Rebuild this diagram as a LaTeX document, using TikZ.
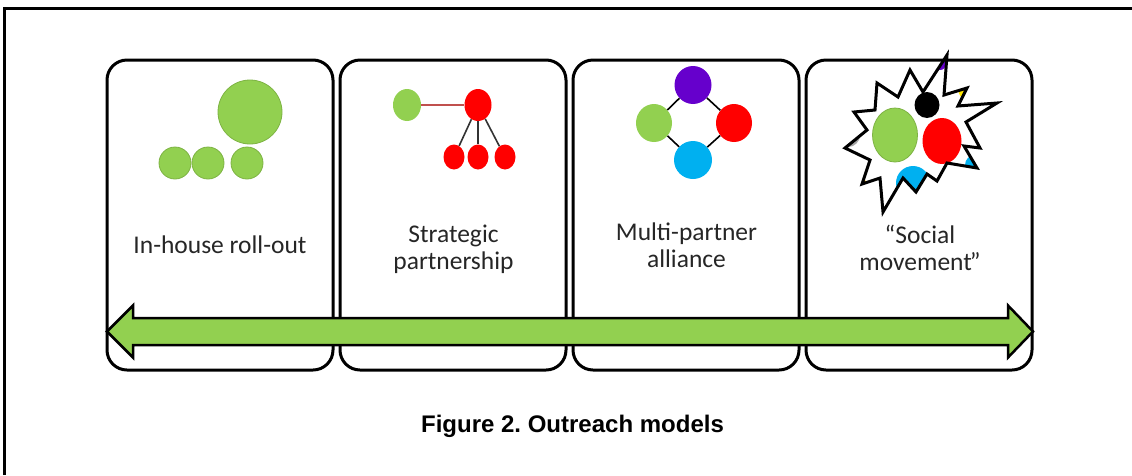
\documentclass[tikz,border=0pt]{standalone}
\usepackage{fontspec}
\setmainfont{Carlito}
\newfontfamily\capfont{Liberation Sans}
\usetikzlibrary{positioning,shapes.geometric}
\definecolor{leaf}{HTML}{92D050}
\definecolor{leafedge}{HTML}{7DB343}
\definecolor{ruby}{HTML}{FF0000}
\definecolor{grape}{HTML}{6600CC}
\definecolor{sky}{HTML}{00B0F0}
\definecolor{sun}{HTML}{FFE600}
\definecolor{amber}{HTML}{FFC000}
\definecolor{ash}{HTML}{A6A6A6}
\definecolor{linkred}{HTML}{C0504D}
\definecolor{ink}{HTML}{262626}
\frenchspacing

\begin{document}
\begin{tikzpicture}[x=1pt,y=-1pt,
    panel/.style={draw, line width=3pt, rounded corners=20pt, minimum width=226pt,
                  minimum height=310pt, inner sep=0pt},
    label/.style={font=\fontsize{25.5}{27}\selectfont, text=ink, align=center},
    blob/.style={ellipse, inner sep=0pt, fill=#1},
    link/.style={line width=1.6pt}]
                \useasboundingbox (0,0) rectangle (1132,475);
                % Frame
                \draw[line width=3pt] (4.5,475) -- (4.5,8.5) -- (1132,8.5);

                % Panels
                \node[panel] (b1) at (220,215) {};
                \node[panel, right=4pt of b1] (b2) {};
                \node[panel, right=4pt of b2] (b3) {};
                \node[panel, right=4pt of b3] (b4) {};

                % In-house roll-out
                \node[blob=leaf, draw=leafedge, line width=0.8pt, minimum size=64pt] (big) at (250,112) {};
                \foreach \i/\x in {1/175, 2/208, 3/247}
                    \node[blob=leaf, draw=leafedge, line width=0.8pt, minimum size=32pt] (s\i) at (\x,163) {};
                \node[label] (t1) at (220,244.5) {In-house roll-out};

                % Strategic partnership
                \node[blob=leaf, minimum width=28pt, minimum height=32pt] (sg) at (407,105) {};
                \node[blob=ruby, minimum width=27pt, minimum height=32pt] (sr) at (478,105) {};
                \foreach \i/\x in {1/454, 2/478, 3/505}
                    \node[blob=ruby, minimum width=21pt, minimum height=25pt] (c\i) at (\x,157) {};
                \draw[link, linkred] (sg) -- (sr);
                \foreach \i in {1,2,3}
                    \draw[link, black!80] (sr) -- (c\i);
                \node[label] (t2) at (453.5,249.5) {Strategic\\partnership};

                % Multi-partner alliance
                \node[blob=grape, minimum width=37pt, minimum height=38pt] (mp) at (693,85) {};
                \node[blob=leaf, minimum width=36pt, minimum height=38pt] (mg) at (654,123) {};
                \node[blob=ruby, minimum width=36pt, minimum height=38pt] (mr) at (734,123) {};
                \node[blob=sky, minimum width=38pt, minimum height=38pt] (mb) at (693,160) {};
                \draw[link] (mp) -- (mg) (mp) -- (mr) (mg) -- (mb) (mr) -- (mb);
                \node[label] (t3) at (686.5,245) {Multi-partner\\alliance};

                % Social movement
                \def\burst{(947,55) -- (944,95) -- (967,88) -- (958,106) -- (997,103) -- (966,122)
                    -- (980,148) -- (964,146) -- (977,168) -- (947,163) -- (937,181) -- (927,174)
                    -- (916,192) -- (903,178) -- (883,212) -- (880,178) -- (862,184) -- (870,160)
                    -- (845,148) -- (867,130) -- (854,112) -- (875,110) -- (877,83) -- (898,97)
                    -- (910,70) -- (923,92) -- cycle}
                \begin{scope}
                    \clip \burst;
                    \fill[white] \burst;
                    \node[blob=sun, minimum size=30pt] (yl) at (973,88) {};
                    \node[blob=amber, minimum size=26pt] (or) at (855,188) {};
                    \node[blob=ash, minimum size=24pt] (gy) at (848,135) {};
                    \node[blob=grape, minimum size=12pt] (pu) at (940,64) {};
                    \node[blob=sky, minimum size=20pt] (bl) at (975,165) {};
                    \node[blob=black, minimum width=25pt, minimum height=26pt] (bk) at (927,105) {};
                    \node[blob=sky, minimum size=34pt] (sb) at (913,183) {};
                    \node[blob=ruby, minimum width=39pt, minimum height=46pt] (rd) at (942,141) {};
                    \node[blob=leaf, draw=leafedge, line width=0.8pt, minimum width=45pt, minimum height=54pt] (gr) at (895,135) {};
                \end{scope}
                \draw[line width=3pt, line join=miter] \burst;
                \node[label] (t4) at (920,248) {“Social\\movement\kern-2pt”};

                % Scale arrow
                \draw[line width=2.5pt, fill=leaf, line join=miter]
                    (107,331.5) -- (133,305.5) -- (133,318) -- (1008,318) -- (1008,305.5)
                    -- (1033,331.5) -- (1008,357.5) -- (1008,345) -- (133,345) -- (133,357.5) -- cycle;

                % Caption
                \node[font=\capfont\bfseries\fontsize{24}{28}\selectfont] (cap) at (572.5,426.5) {Figure 2. Outreach models};
            \end{tikzpicture}
\end{document}
